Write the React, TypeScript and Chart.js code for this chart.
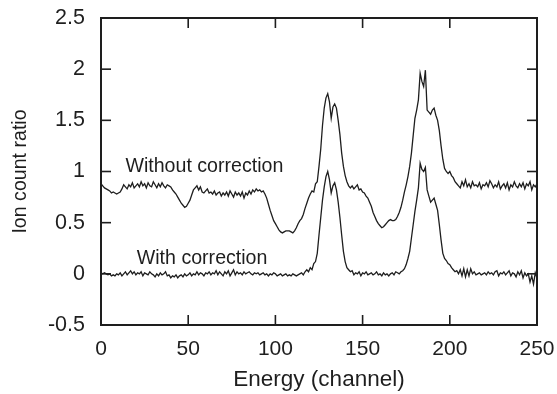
import React, { useEffect, useRef } from "react";
import { Chart, registerables } from "chart.js";

Chart.register(...registerables);

const channels: number[] = Array.from({ length: 251 }, (_, i) => i);

const withoutCorrection: number[] = [
  0.88, 0.86, 0.84, 0.83, 0.82, 0.81, 0.79, 0.80, 0.79, 0.78,
  0.79, 0.80, 0.83, 0.87, 0.85, 0.83, 0.87, 0.85, 0.89, 0.84,
  0.86, 0.88, 0.85, 0.90, 0.86, 0.88, 0.84, 0.89, 0.86, 0.85,
  0.90, 0.87, 0.84, 0.88, 0.85, 0.89, 0.86, 0.84, 0.87, 0.86,
  0.85, 0.82, 0.80, 0.78, 0.75, 0.72, 0.69, 0.67, 0.65, 0.66,
  0.69, 0.72, 0.77, 0.82, 0.84, 0.86, 0.82, 0.85, 0.80, 0.79,
  0.81, 0.83, 0.79, 0.80, 0.78, 0.81, 0.77, 0.79, 0.80, 0.76,
  0.79, 0.77, 0.80, 0.76, 0.81, 0.78, 0.75, 0.80, 0.77, 0.79,
  0.76, 0.80, 0.74, 0.79, 0.77, 0.81, 0.78, 0.82, 0.80, 0.83,
  0.81, 0.82, 0.80, 0.81, 0.78, 0.74, 0.68, 0.62, 0.57, 0.52,
  0.49, 0.46, 0.43, 0.41, 0.40, 0.41, 0.42, 0.42, 0.42, 0.41,
  0.40, 0.42, 0.45, 0.49, 0.52, 0.54, 0.58, 0.64, 0.69, 0.74,
  0.78, 0.81, 0.80, 0.88, 0.90, 1.05, 1.22, 1.45, 1.62, 1.72,
  1.76, 1.68, 1.52, 1.63, 1.66, 1.62, 1.50, 1.36, 1.18, 1.05,
  0.96, 0.90, 0.86, 0.84, 0.86, 0.83, 0.85, 0.87, 0.82, 0.83,
  0.80, 0.79, 0.76, 0.74, 0.70, 0.66, 0.60, 0.56, 0.52, 0.49,
  0.47, 0.45, 0.46, 0.48, 0.50, 0.52, 0.53, 0.52, 0.52, 0.53,
  0.56, 0.60, 0.65, 0.72, 0.80, 0.87, 0.95, 1.05, 1.18, 1.35,
  1.52, 1.60, 1.70, 1.96, 1.88, 1.83, 1.99, 1.60, 1.58, 1.56,
  1.60, 1.62, 1.55, 1.50, 1.40, 1.25, 1.12, 1.03, 1.00, 0.98,
  1.00, 0.96, 0.94, 0.90, 0.88, 0.86, 0.84, 0.90, 0.86, 0.92,
  0.85, 0.88, 0.84, 0.90, 0.86, 0.87, 0.85, 0.89, 0.83, 0.87,
  0.86, 0.89, 0.85, 0.91, 0.88, 0.84, 0.87, 0.85, 0.90, 0.83,
  0.86, 0.88, 0.84, 0.89, 0.82, 0.87, 0.85, 0.90, 0.86, 0.84,
  0.88, 0.85, 0.89, 0.83, 0.88, 0.86, 0.90, 0.82, 0.87, 0.85,
  0.88,
];

const withCorrection: number[] = [
  0.01, 0.00, 0.01, 0.00, -0.01, 0.00, -0.02, -0.01, -0.02, 0.00,
  -0.01, 0.01, -0.02, 0.00, 0.02, -0.01, 0.01, 0.03, 0.00, 0.02,
  -0.01, 0.01, 0.00, 0.02, -0.02, 0.01, 0.00, -0.01, 0.02, 0.00,
  -0.01, -0.03, 0.00, -0.02, 0.01, -0.01, 0.00, 0.02, -0.02, -0.01,
  -0.04, -0.02, -0.03, -0.01, -0.04, -0.02, -0.01, -0.03, 0.00, -0.02,
  -0.01, 0.01, -0.02, 0.00, -0.01, 0.02, -0.01, 0.01, 0.00, -0.02,
  0.01, 0.00, 0.02, -0.01, 0.01, 0.00, 0.03, -0.01, 0.02, 0.00,
  -0.02, 0.02, 0.00, 0.03, -0.02, 0.01, 0.04, -0.01, 0.02, 0.00,
  0.01, -0.01, 0.02, 0.00, 0.01, 0.02, 0.00, -0.01, 0.01, 0.00,
  0.01, -0.01, 0.00, 0.01, -0.01, 0.00, -0.02, 0.00, -0.01, 0.01,
  0.00, -0.02, -0.01, 0.00, -0.02, -0.01, 0.00, -0.02, -0.01, -0.02,
  0.00, -0.01, -0.02, -0.01, 0.00, 0.01, -0.01, 0.02, 0.04, 0.02,
  0.06, 0.04, 0.10, 0.12, 0.20, 0.38, 0.55, 0.72, 0.85, 0.95,
  1.00, 0.92, 0.79, 0.86, 0.89, 0.82, 0.70, 0.55, 0.38, 0.22,
  0.12, 0.06, 0.04, 0.02, 0.03, -0.01, 0.01, 0.00, 0.02, -0.02,
  0.01, 0.00, 0.02, -0.01, 0.00, 0.01, -0.01, 0.00, 0.02, -0.01,
  0.00, -0.02, 0.01, -0.01, 0.00, -0.02, 0.00, 0.01, -0.01, 0.02,
  0.01, 0.00, 0.02, 0.03, 0.05, 0.09, 0.15, 0.22, 0.35, 0.48,
  0.61, 0.72, 0.84, 1.08, 1.02, 1.00, 1.04, 0.82, 0.76, 0.70,
  0.72, 0.74, 0.68, 0.62, 0.48, 0.33, 0.20, 0.15, 0.13, 0.10,
  0.09, 0.06, 0.04, 0.02, 0.03, 0.00, 0.04, -0.02, 0.05, -0.03,
  0.04, -0.02, 0.05, 0.00, 0.02, -0.01, 0.00, 0.01, -0.01, 0.00,
  0.01, -0.01, 0.02, 0.00, 0.01, -0.01, 0.02, 0.03, -0.02, 0.01,
  0.00, 0.02, -0.01, 0.01, 0.03, -0.02, 0.01, 0.00, -0.03, 0.02,
  -0.01, 0.03, -0.04, 0.01, -0.02, 0.00, -0.08, -0.02, -0.10, 0.01,
  -0.04,
];

const xTicks: number[] = [0, 50, 100, 150, 200, 250];
const yTicks: number[] = [-0.5, 0, 0.5, 1, 1.5, 2, 2.5];
const yTickLabels: string[] = ["-0.5", "0", "0.5", "1", "1.5", "2", "2.5"];

const annotations: { text: string; x: number; y: number }[] = [
  { text: "Without correction", x: 14, y: 1.0 },
  { text: "With correction", x: 20.5, y: 0.096 },
];

const FONT = "'Liberation Sans', Arial, Helvetica, sans-serif";
const INK = "#1e1e1e";

const framePlugin = {
  id: "frameTicks",
  afterDraw(chart: any) {
    const ctx = chart.ctx;
    const area = chart.chartArea;
    const xs = chart.scales.x;
    const ys = chart.scales.y;
    const left = area.left;
    const right = area.right;
    const top = area.top;
    const bottom = area.bottom;
    ctx.save();
    ctx.strokeStyle = INK;
    ctx.lineWidth = 1.6;
    const tl = 10;
    for (const v of xTicks) {
      const px = xs.getPixelForValue(v);
      ctx.beginPath();
      ctx.moveTo(px, bottom);
      ctx.lineTo(px, bottom - tl);
      ctx.stroke();
      ctx.beginPath();
      ctx.moveTo(px, top);
      ctx.lineTo(px, top + tl);
      ctx.stroke();
    }
    for (const v of yTicks) {
      const py = ys.getPixelForValue(v);
      ctx.beginPath();
      ctx.moveTo(left, py);
      ctx.lineTo(left + tl, py);
      ctx.stroke();
      ctx.beginPath();
      ctx.moveTo(right, py);
      ctx.lineTo(right - tl, py);
      ctx.stroke();
    }
    ctx.lineWidth = 2;
    ctx.strokeRect(left, top, right - left, bottom - top);
    ctx.fillStyle = INK;
    ctx.font = `19.6px ${FONT}`;
    ctx.textAlign = "left";
    ctx.textBaseline = "alphabetic";
    annotations.forEach((a) => {
      ctx.fillText(a.text, xs.getPixelForValue(a.x), ys.getPixelForValue(a.y));
    });
    ctx.restore();
  },
};

function zeroPad(scale: any) {
  scale.paddingLeft = 0;
  scale.paddingRight = 0;
  scale.paddingTop = 0;
  scale.paddingBottom = 0;
}

export default function App() {
  const ref = useRef<HTMLCanvasElement | null>(null);
  useEffect(() => {
    if (!ref.current) return;
    const chart = new Chart(ref.current, {
      type: "line",
      data: {
        datasets: [
          {
            label: "Without correction",
            data: channels.map((c, i) => ({ x: c, y: withoutCorrection[i] })),
            borderColor: INK,
            borderWidth: 1.3,
            pointRadius: 0,
            tension: 0,
          },
          {
            label: "With correction",
            data: channels.map((c, i) => ({ x: c, y: withCorrection[i] })),
            borderColor: INK,
            borderWidth: 1.3,
            pointRadius: 0,
            tension: 0,
          },
        ],
      },
      options: {
        animation: false,
        responsive: false,
        devicePixelRatio: 1,
        layout: { padding: { left: 0, right: 20, top: 18, bottom: 0 } },
        plugins: {
          legend: { display: false },
          tooltip: { enabled: false },
        },
        scales: {
          x: {
            type: "linear",
            min: 0,
            max: 250,
            grid: { display: false, drawTicks: false },
            border: { display: false },
            afterBuildTicks: (scale: any) => {
              scale.ticks = xTicks.map((v) => ({ value: v }));
            },
            afterFit: (scale: any) => {
              scale.height = 69;
              zeroPad(scale);
            },
            ticks: {
              color: INK,
              padding: 12,
              maxRotation: 0,
              autoSkip: false,
              font: { family: FONT, size: 21 },
              callback: (v: any) => String(v),
            },
            title: {
              display: true,
              text: "Energy (channel)",
              color: INK,
              font: { family: FONT, size: 22.5 },
              padding: { top: 0, bottom: 1 },
            },
          },
          y: {
            type: "linear",
            min: -0.5,
            max: 2.5,
            grid: { display: false, drawTicks: false },
            border: { display: false },
            afterBuildTicks: (scale: any) => {
              scale.ticks = yTicks.map((v) => ({ value: v }));
            },
            afterFit: (scale: any) => {
              scale.width = 101;
              zeroPad(scale);
            },
            ticks: {
              color: INK,
              padding: 16,
              autoSkip: false,
              font: { family: FONT, size: 21.5 },
              callback: (v: any) => {
                const i = yTicks.indexOf(Number(v));
                return i >= 0 ? yTickLabels[i] : "";
              },
            },
            title: {
              display: true,
              text: "Ion count ratio",
              color: INK,
              font: { family: FONT, size: 19.6 },
              padding: { top: 8.5, bottom: 0 },
            },
          },
        },
      },
      plugins: [framePlugin],
    });
    return () => chart.destroy();
  }, []);
  return (
    <div style={{ position: "absolute", left: 0, top: 0, width: 557, height: 394, background: "#fff" }}>
      <canvas ref={ref} width={557} height={394} style={{ display: "block" }} />
    </div>
  );
}
